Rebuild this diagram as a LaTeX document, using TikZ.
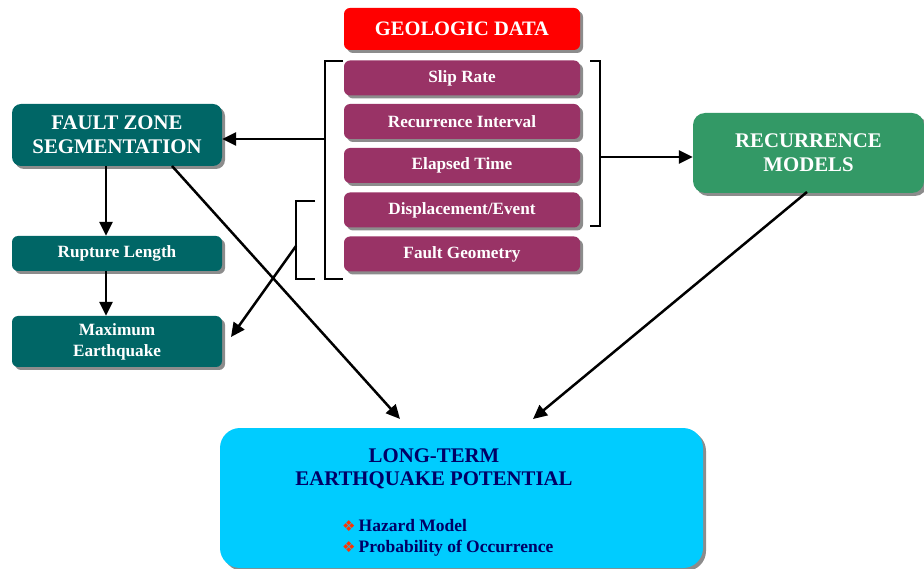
\documentclass[tikz,border=0pt]{standalone}
\usepackage{fontspec}
\setmainfont{Liberation Serif}
\newfontfamily\symfont{DejaVu Sans}
\usetikzlibrary{arrows.meta,shadows,calc}
\definecolor{cRed}{RGB}{255,0,0}
\definecolor{cPlum}{RGB}{153,51,102}
\definecolor{cTeal}{RGB}{0,102,102}
\definecolor{cGreen}{RGB}{51,153,102}
\definecolor{cCyan}{RGB}{0,204,255}
\definecolor{cNavy}{RGB}{0,0,102}
\definecolor{cBullet}{RGB}{255,51,0}
\tikzset{
  shad/.style={drop shadow={shadow xshift=3pt,shadow yshift=-3pt,fill=black!45,opacity=1}},
  boxbase/.style={shad,rounded corners=6pt,inner sep=0pt,align=center,text=white,font=\bfseries},
  databox/.style={boxbase,fill=cPlum,minimum width=236pt,minimum height=35pt,font=\fontsize{17.2}{20}\selectfont\bfseries},
  tealbox/.style={boxbase,fill=cTeal,minimum width=210pt},
  arr/.style={line width=2.5pt,-{Triangle[length=14pt,width=13pt]}},
  brk/.style={line width=2.4pt},
  bul/.style={anchor=base west,inner sep=0pt,text=cNavy,font=\fontsize{17.5}{20}\selectfont\bfseries},
}
\newcommand{\mybul}{{\color{cBullet}\symfont\fontsize{15}{16}\selectfont ❖}\hspace{3pt}}
\begin{document}
\begin{tikzpicture}[x=1pt,y=-1pt]
\useasboundingbox (0,0) rectangle (924,569);
% geologic data column
\node[boxbase,fill=cRed,minimum width=236pt,minimum height=42pt,font=\fontsize{20.5}{22}\selectfont\bfseries] (geo) at (462,29) {GEOLOGIC DATA};
\node[databox] (slip) at (462,78) {Slip Rate};
\node[databox] (rint) at (462,121.5) {Recurrence Interval};
\node[databox] (elap) at (462,165.5) {Elapsed Time};
\node[databox] (disp) at (462,210) {Displacement/Event};
\node[databox] (fgeo) at (462,254) {Fault Geometry};
% left column
\node[tealbox,rounded corners=9pt,minimum height=62pt,font=\fontsize{20.8}{24}\selectfont\bfseries] (fzs) at (117,135) {FAULT ZONE\\SEGMENTATION};
\node[tealbox,minimum height=35pt,font=\fontsize{17.2}{20}\selectfont\bfseries] (rup) at (117,253.5) {Rupture Length};
\node[tealbox,minimum height=51pt,font=\fontsize{17.2}{21}\selectfont\bfseries] (maxeq) at (117,341.5) {Maximum\\Earthquake};
% recurrence models
\node[boxbase,fill=cGreen,rounded corners=12pt,minimum width=231pt,minimum height=80pt,font=\fontsize{20.8}{24}\selectfont\bfseries] (recm) at (808.5,153) {RECURRENCE\\MODELS};
% long-term box
\node[shad,fill=cCyan,rounded corners=20pt,minimum width=483pt,minimum height=140pt,inner sep=0pt] (lt) at (461.5,498) {};
\node[align=center,text=cNavy,font=\fontsize{20.8}{23}\selectfont\bfseries,anchor=base,inner sep=0pt] (lttitle) at (434,485) {LONG-TERM\\EARTHQUAKE POTENTIAL};
\node[bul] (haz) at (342,531) {\mybul Hazard Model};
\node[bul] (prob) at (342,552) {\mybul Probability of Occurrence};
% brackets
\coordinate (lbt) at (343,61);
\coordinate (lbb) at (343,279);
\coordinate (lbm) at (325,139);
\draw[brk] (lbt) -- (325,61) -- (325,279) -- (lbb);
\coordinate (rbt) at (590,61);
\coordinate (rbb) at (590,226);
\coordinate (rbm) at (600,157);
\draw[brk] (rbt) -- (600,61) -- (600,226) -- (rbb);
\coordinate (sbt) at (315,201);
\coordinate (sbb) at (315,279);
\coordinate (sbm) at (296,246);
\draw[brk] (sbt) -- (296,201) -- (296,279) -- (sbb);
% connectors
\draw[arr] (lbm) -- (lbm -| fzs.east);
\draw[arr] (rbm) -- (rbm -| recm.west);
\coordinate (mxtip) at (231,337);
\draw[arr] (sbm) -- (mxtip);
\coordinate (fzsx) at (106,166);
\draw[arr] (fzsx) -- (fzsx |- rup.north);
\coordinate (rupx) at (106,271);
\draw[arr] (rupx) -- (rupx |- maxeq.north);
\coordinate (fzsd) at (172,166);
\coordinate (ltl) at (400,419);
\draw[arr] (fzsd) -- (ltl);
\coordinate (recd) at (807,192);
\coordinate (ltr) at (533,419);
\draw[arr] (recd) -- (ltr);
\end{tikzpicture}
\end{document}
